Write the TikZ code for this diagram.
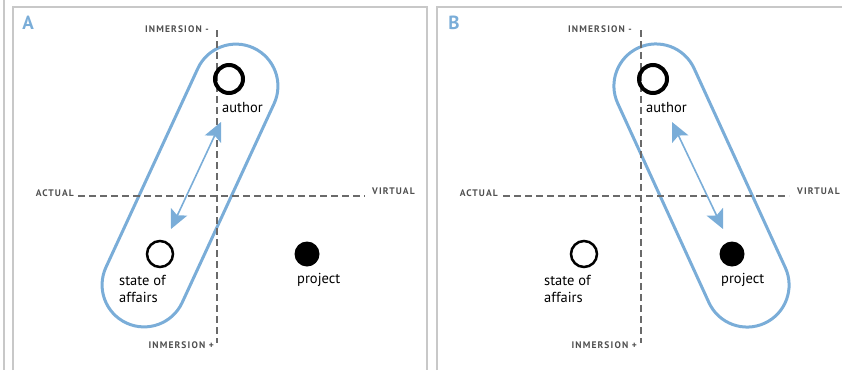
\documentclass[tikz,border=0pt]{standalone}
\usepackage{fontspec}
\setmainfont{PT Sans}
\newfontfamily\axisfont[LetterSpace=12]{PT Sans}
\usetikzlibrary{arrows.meta,shapes.misc}
\definecolor{loopblue}{RGB}{122,173,216}
\definecolor{axisgray}{RGB}{80,80,80}
\definecolor{framegray}{RGB}{200,200,200}

\begin{document}
\begin{tikzpicture}[x=1pt,y=-1pt,
    frame/.style={draw=framegray, line width=1.5pt},
    axis/.style={draw=axisgray!85, line width=1.1pt, dash pattern=on 7pt off 4pt},
    axislabel/.style={font=\axisfont\bfseries\fontsize{9.5}{11}\selectfont, text=axisgray, inner sep=0pt},
    panel/.style={font=\bfseries\fontsize{19}{22}\selectfont, text=loopblue, inner sep=0pt},
    word/.style={font=\fontsize{14.5}{17}\selectfont, inner sep=0pt, align=left},
    loop/.style={draw=loopblue, line width=3pt, rounded rectangle, minimum height=84pt, minimum width=303pt, inner sep=0pt},
    pair/.style={draw=loopblue, line width=1.6pt, {Stealth[length=19pt,width=18pt,inset=4pt]}-{Stealth[length=19pt,width=18pt,inset=4pt]}},
    ring/.style={draw, circle, line width=4pt, minimum size=28pt, inner sep=0pt},
    thinring/.style={draw, circle, line width=2.5pt, minimum size=26pt, inner sep=0pt},
    dot/.style={fill, circle, minimum size=25pt, inner sep=0pt}]
  \useasboundingbox (0,0) rectangle (842,370);

  % panel frames, open at the bottom
  \draw[frame] (4,0) -- (4,370);
  \draw[frame] (13,370) -- (13,7) -- (427,7) -- (427,370);
  \draw[frame] (437,370) -- (437,7) -- (842,7);

  % ---- panel A: author with state of affairs ----
  \node[panel] (panelA) at (28,23) {A};
  \node[loop, rotate=65.2] (loopA) at (190,185.5) {};

  % axes
  \coordinate (topA) at (217,30);
  \coordinate (botA) at (217,343);
  \coordinate (leftA) at (78,196);
  \coordinate (rightA) at (365,196);
  \draw[axis] (topA) -- (botA);
  \draw[axis] (leftA) -- (rightA);
  \node[axislabel, anchor=east] (minusA) at (209,29) {INMERSION -};
  \node[axislabel, anchor=east] (plusA) at (214,345) {INMERSION +};
  \node[axislabel, anchor=east] (actualA) at (74,193) {ACTUAL};
  \node[axislabel, anchor=west] (virtualA) at (372,191) {VIRTUAL};

  % the three poles
  \node[ring] (authorA) at (229,79) {};
  \node[thinring] (stateA) at (160,254) {};
  \node[dot] (projectA) at (307,254) {};
  \node[word, anchor=base west] (authorlblA) at (222,112) {author};
  \node[word, anchor=north west] (statelblA) at (119,275) {state of\\affairs};
  \node[word, anchor=base west] (projectlblA) at (297,283) {project};

  % relation author <-> state of affairs
  \coordinate (aA) at (221,122);
  \coordinate (sA) at (171,229);
  \draw[pair] (aA) -- (sA);

  % ---- panel B: author with project ----
  \node[panel] (panelB) at (454,23) {B};
  \node[loop, rotate=-65.4] (loopB) at (701.5,185.5) {};

  % axes
  \coordinate (topB) at (641,30);
  \coordinate (botB) at (641,343);
  \coordinate (leftB) at (503,196);
  \coordinate (rightB) at (789,196);
  \draw[axis] (topB) -- (botB);
  \draw[axis] (leftB) -- (rightB);
  \node[axislabel, anchor=east] (minusB) at (632,29) {INMERSION -};
  \node[axislabel, anchor=east] (plusB) at (637,345) {INMERSION +};
  \node[axislabel, anchor=east] (actualB) at (498,193) {ACTUAL};
  \node[axislabel, anchor=west] (virtualB) at (797,191) {VIRTUAL};

  % the three poles
  \node[ring] (authorB) at (653,79) {};
  \node[thinring] (stateB) at (584,254) {};
  \node[dot] (projectB) at (732,254) {};
  \node[word, anchor=base west] (authorlblB) at (646,112) {author};
  \node[word, anchor=north west] (statelblB) at (544,275) {state of\\affairs};
  \node[word, anchor=base west] (projectlblB) at (721,283) {project};

  % relation author <-> project
  \coordinate (aB) at (672,122);
  \coordinate (pB) at (723,229);
  \draw[pair] (aB) -- (pB);
\end{tikzpicture}
\end{document}
